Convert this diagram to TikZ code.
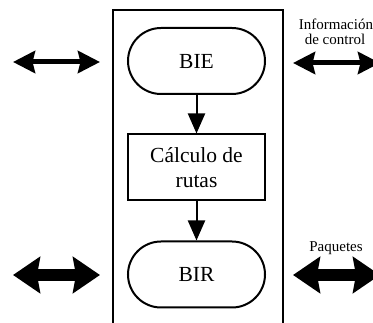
\documentclass[tikz,border=0pt]{standalone}
\usepackage{fontspec}
\setmainfont{Liberation Serif}
\usetikzlibrary{arrows.meta}

\begin{document}
\begin{tikzpicture}[x=1pt,y=1pt,
  unit/.style={draw, line width=2pt, minimum width=137pt, minimum height=66pt,
    inner sep=0pt, align=center, font=\fontsize{21.5}{25}\selectfont},
  stadium/.style={unit, rounded corners=33pt},
  flow/.style={line width=2pt, -{Triangle[length=20pt,width=17pt]}},
  thinhead/.tip={Stealth[length=22pt,width=22pt,inset=2.5pt]},
  thickhead/.tip={Stealth[length=27pt,width=36pt,inset=3pt]},
  thinlink/.style={line width=5pt, thinhead-thinhead},
  thicklink/.style={line width=12pt, thickhead-thickhead},
  lbl/.style={font=\fontsize{15}{15}\selectfont, anchor=base, inner sep=0pt}
]
\useasboundingbox (0,0) rectangle (373,-323);
\clip (0,0) rectangle (373,-323);

% router frame, open past the lower edge
\node[draw, line width=2.5pt, minimum width=170pt, minimum height=340pt,
  anchor=north west, inner sep=0pt] (router) at (111.5,-9) {};

% internal blocks
\node[stadium] (bie) at (196.5,-61) {BIE};
\node[unit] (calc) at (196.5,-167.5) {Cálculo de\\rutas};
\node[stadium] (bir) at (196.5,-274.5) {BIR};

\draw[flow] (bie) -- (calc);
\draw[flow] (calc) -- (bir);

% external exchanges
\coordinate (l1a) at (13,-62);  \coordinate (l1b) at (100,-62);
\coordinate (r1a) at (293,-63); \coordinate (r1b) at (380,-63);
\coordinate (l2a) at (13,-275); \coordinate (l2b) at (100,-275);
\coordinate (r2a) at (293,-275); \coordinate (r2b) at (380,-275);

\draw[thinlink] (l1a) -- (l1b);
\draw[thinlink] (r1a) -- (r1b);
\draw[thicklink] (l2a) -- (l2b);
\draw[thicklink] (r2a) -- (r2b);

\node[lbl] (info) at (336,-30) {Información};
\node[lbl] (ctrl) at (335,-45) {de control};
\node[lbl] (paq) at (336,-252) {Paquetes};
\end{tikzpicture}
\end{document}
